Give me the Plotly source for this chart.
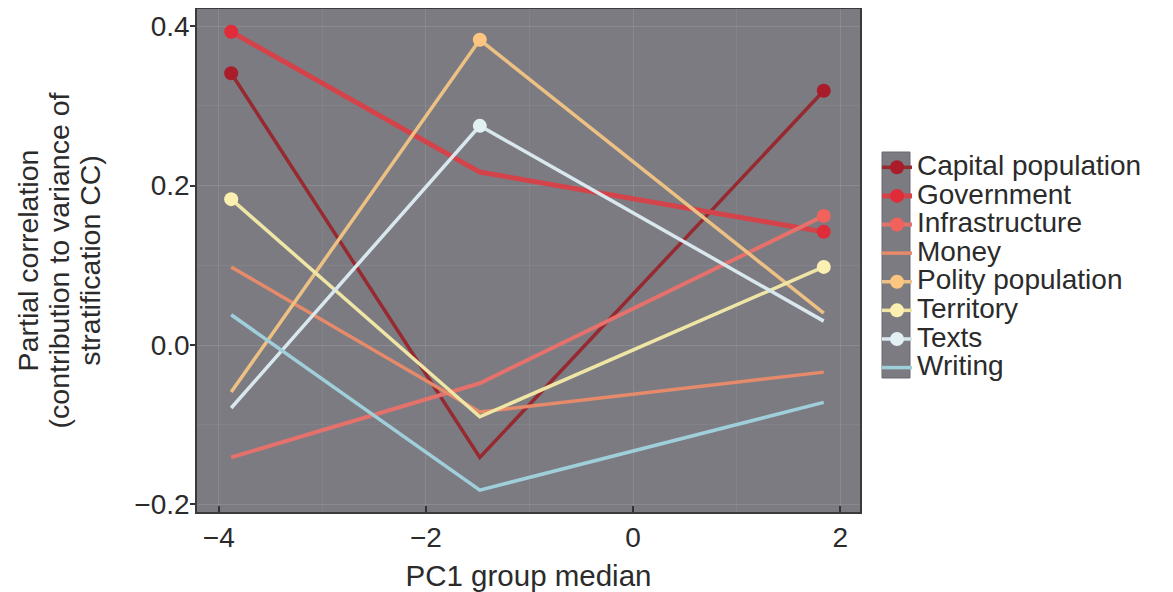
import plotly.graph_objects as go

# ---- data ----
x_groups = [-3.88, -1.48, 1.84]
series_names = ["Capital population", "Government", "Infrastructure", "Money",
                "Polity population", "Territory", "Texts", "Writing"]
capital_population = [0.341, -0.141, 0.319]
government = [0.393, 0.217, 0.142]
infrastructure = [-0.141, -0.048, 0.162]
money = [0.098, -0.084, -0.034]
polity_population = [-0.059, 0.383, 0.040]
territory = [0.183, -0.090, 0.098]
texts = [-0.079, 0.275, 0.030]
writing = [0.038, -0.182, -0.072]
# which points carry a dot marker
marked = {
    "Capital population": [1, 0, 1],
    "Government": [1, 0, 1],
    "Infrastructure": [0, 0, 1],
    "Money": [0, 0, 0],
    "Polity population": [0, 1, 0],
    "Territory": [1, 0, 1],
    "Texts": [0, 1, 0],
    "Writing": [0, 0, 0],
}
x_ticks = [-4, -2, 0, 2]
y_ticks = [-0.2, 0.0, 0.2, 0.4]
y_title_lines = ["Partial correlation", "(contribution to variance of", "stratification CC)"]

values = [capital_population, government, infrastructure, money,
          polity_population, territory, texts, writing]
line_colors = ["#962a30", "#d5434a", "#e4716b", "#e68a6a",
               "#edc084", "#efe6a6", "#d8e8ee", "#9fcfdb"]
marker_colors = ["#a81d29", "#e02b38", "#f2625c", "#e68a6a",
                 "#fcc680", "#fbf0b2", "#e2f0f4", "#9fcfdb"]
line_widths = [3.5, 5, 4, 3.5, 3.5, 3.5, 3.5, 3.5]

FONT = "Liberation Sans, Arial, sans-serif"
TXT = "#2b2b2b"
BG = "#7c7b82"
OFF = 8                      # default page body margin
W, H = 1173 - OFF, 592 - OFF
L, R, T, B = 197 - OFF, 313, 9 - OFF, 80
PW, PH = W - L - R, H - T - B

fig = go.Figure()
for name, ys, lc, mc, lw in zip(series_names, values, line_colors, marker_colors, line_widths):
    flags = marked[name]
    has_marks = any(flags)
    label = '<span style="font-size:28px">%s</span>' % name
    rank = 100 + series_names.index(name)
    fig.add_trace(go.Scatter(
        x=x_groups, y=ys, mode="lines", name=label,
        line=dict(color=lc, width=lw), legendgroup=name, legendrank=rank,
        showlegend=not has_marks, hoverinfo="skip"))
    if has_marks:
        ym = [v if f else None for v, f in zip(ys, flags)]
        fig.add_trace(go.Scatter(
            x=x_groups, y=ym, mode="lines+markers", name=label,
            line=dict(color=lc, width=lw), connectgaps=False,
            marker=dict(color=mc, size=14), legendgroup=name, legendrank=rank,
            showlegend=True))

y_title = "<br>".join('<span style="font-size:28.5px">%s</span>' % s for s in y_title_lines)

fig.update_layout(
    width=W, height=H,
    margin=dict(l=L, r=R, t=T, b=B, autoexpand=False),
    paper_bgcolor="white", plot_bgcolor=BG,
    font=dict(family=FONT, size=28, color=TXT),
    legend=dict(x=(877 - OFF) / W, y=1 - (148 - OFF) / H, xref="container", yref="container",
                xanchor="left", yanchor="top",
                bgcolor="rgba(0,0,0,0)", font=dict(size=19.7, family=FONT, color=TXT),
                tracegroupgap=0, itemwidth=30, traceorder="normal"),
    shapes=[dict(type="rect", xref="paper", yref="paper",
                 x0=(882 - OFF - L) / PW, x1=(910 - OFF - L) / PW,
                 y0=(H - B - (378 - OFF)) / PH, y1=(H - B - (152 - OFF)) / PH,
                 fillcolor=BG, line=dict(color="#6a6a70", width=1), layer="below")],
)
fig.update_xaxes(
    range=[-4.21, 2.19], tickmode="array", tickvals=x_ticks,
    ticks="inside", ticklen=6, tickcolor="#333", tickwidth=1.5,
    showline=True, mirror=True, linecolor="#3a3a3a", linewidth=1.5,
    showgrid=True, gridcolor="rgba(255,255,255,0.06)", gridwidth=1,
    minor=dict(dtick=1, tick0=0, showgrid=True, gridcolor="rgba(255,255,255,0.06)"),
    zeroline=False, automargin=False,
    title=dict(text="PC1 group median", font=dict(size=29.5), standoff=13),
    tickfont=dict(size=28),
)
fig.update_yaxes(
    range=[-0.2095, 0.4216], tickmode="array", tickvals=y_ticks,
    tickformat=".1f",
    ticks="outside", ticklen=5, tickcolor="#333", tickwidth=1.5,
    ticklabelstandoff=-5,
    showline=True, mirror=True, linecolor="#3a3a3a", linewidth=1.5,
    showgrid=True, gridcolor="rgba(255,255,255,0.06)", gridwidth=1,
    minor=dict(dtick=0.1, tick0=0, showgrid=True, gridcolor="rgba(255,255,255,0.06)"),
    zeroline=False, automargin=False,
    title=dict(text=y_title, font=dict(size=24), standoff=27),
    tickfont=dict(size=28),
)

fig.write_html("out.html")
